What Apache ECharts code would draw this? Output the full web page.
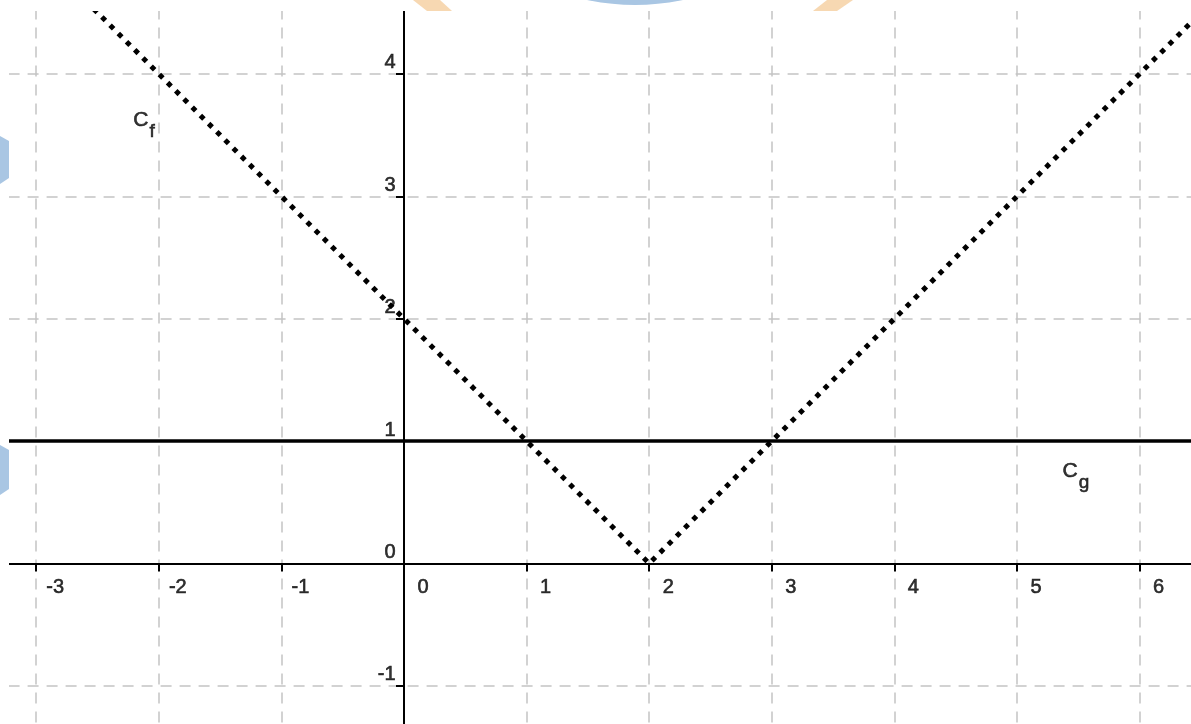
<!DOCTYPE html>
<html><head><meta charset="utf-8">
<script src="https://cdn.jsdelivr.net/npm/echarts@6/dist/echarts.min.js"></script>
<style>html,body{margin:0;padding:0;background:#fff}#c{width:1191px;height:724px}</style>
</head><body><div id="c"></div>
<script>
// curve C_f (V shape)
const fX = [-3, 2, 7];
const fY = [5, 0, 5];
// curve C_g (horizontal line)
const gX = [-4, 7];
const gY = [1, 1];
// tick labels
const xTickLabels = ['-3','-2','-1','0','1','2','3','4','5','6'];
const yTickLabels = ['-1','0','1','2','3','4'];
// curve name labels
const curveNames = ['f', 'g'];
const curveLabelX = [-2.12, 5.48];
const curveLabelY = [3.58, 0.71];

const chart = echarts.init(document.getElementById('c'), null, {renderer: 'canvas'});
const FONT = 'Liberation Sans';
const gridStyle = {type: [11, 8], color: '#c4c4c4', width: 1.5};
const hidden = {color: 'rgba(0,0,0,0)'};
const txt = {color: '#000', fontFamily: FONT, fontSize: 20, textBorderColor: '#000', textBorderWidth: 0.6};

const option = {
  animation: false,
  backgroundColor: '#fff',
  grid: {left: -86.4, top: -48.5, width: 1348.6, height: 856.8, containLabel: false, outerBoundsMode: 'none'},
  xAxis: {
    type: 'value', min: -4, max: 7, interval: 1,
    axisLine: {onZero: true, lineStyle: {color: '#000', width: 2}},
    axisTick: {show: true, length: 8, lineStyle: {color: '#000', width: 2}},
    axisLabel: {show: false},
    splitLine: {show: true, lineStyle: gridStyle}
  },
  yAxis: {
    type: 'value', min: -2, max: 5, interval: 1,
    axisLine: {onZero: true, lineStyle: {color: '#000', width: 2}},
    axisTick: {show: true, length: 8, lineStyle: {color: '#000', width: 2}},
    axisLabel: {show: false},
    splitLine: {show: true, lineStyle: gridStyle}
  },
  series: [
    {type: 'line', name: 'g', data: gX.map((x, i) => [x, gY[i]]), symbol: 'none', clip: true, z: 3,
     lineStyle: {color: '#000', width: 3.5}},
    {type: 'line', name: 'f', data: fX.map((x, i) => [x, fY[i]]), symbol: 'none', clip: true, z: 4,
     lineStyle: {color: '#000', width: 5, type: [5, 6.6], cap: 'butt'}},
    {
      type: 'scatter', name: 'xTicks', symbolSize: 1, z: 5, itemStyle: hidden, silent: true,
      data: xTickLabels.map(s => ({name: s, value: [Number(s), 0]})),
      label: Object.assign({show: true, position: 'inside', offset: [19, 24], formatter: p => p.name}, txt)
    },
    {
      type: 'scatter', name: 'yTicks', symbolSize: 1, z: 5, itemStyle: hidden, silent: true,
      data: yTickLabels.map(s => ({name: s, value: [0, Number(s)]})),
      label: Object.assign({show: true, position: 'left', distance: 8, offset: [0, -11], formatter: p => p.name}, txt)
    },
    {
      type: 'scatter', name: 'curveLabels', symbolSize: 1, z: 5, itemStyle: hidden, silent: true,
      data: curveNames.map((n, i) => ({name: n, value: [curveLabelX[i], curveLabelY[i]]})),
      label: {
        show: true, position: 'inside', color: '#000', fontFamily: FONT, fontSize: 20,
        formatter: p => '{c|C}{s|' + p.name + '}',
        rich: {
          c: {fontFamily: FONT, fontSize: 21, color: '#000', textBorderColor: '#000', textBorderWidth: 0.6, lineHeight: 19, verticalAlign: 'top'},
          s: {fontFamily: FONT, fontSize: 19, color: '#000', textBorderColor: '#000', textBorderWidth: 0.6, lineHeight: 31, verticalAlign: 'bottom', padding: [0, 0, 0, 1]}
        }
      }
    }
  ],
  graphic: {elements: [
    {type: 'rect', silent: true, z: 100, shape: {x: 0, y: 0, width: 1191, height: 11}, style: {fill: '#fff'}},
    {type: 'rect', silent: true, z: 100, shape: {x: 0, y: 0, width: 9, height: 724}, style: {fill: '#fff'}},
    {type: 'polygon', silent: true, z: 101, shape: {points: [[413, 0], [440, 0], [452, 11], [427, 11]]}, style: {fill: '#f7d8b2'}},
    {type: 'circle', silent: true, z: 101, shape: {cx: 635, cy: -228, r: 233}, style: {fill: '#a9c6e3'}},
    {type: 'polygon', silent: true, z: 101, shape: {points: [[827, 0], [853, 0], [837, 11], [813, 11]]}, style: {fill: '#f7d8b2'}},
    {type: 'polygon', silent: true, z: 101, shape: {points: [[0, 136], [9, 141], [9, 178], [0, 184]]}, style: {fill: '#a9c6e3'}},
    {type: 'polygon', silent: true, z: 101, shape: {points: [[0, 445], [9, 450], [9, 489], [0, 495]]}, style: {fill: '#a9c6e3'}}
  ]}
};
chart.setOption(option);
</script>
</body></html>
